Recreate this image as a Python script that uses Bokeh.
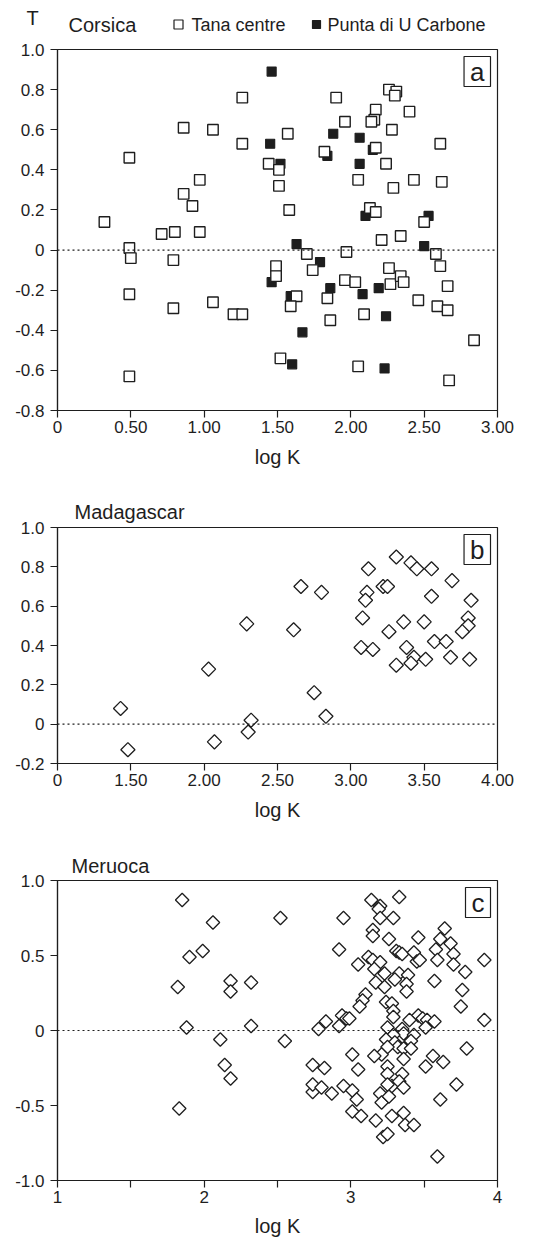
import numpy as np
from bokeh.plotting import figure
from bokeh.layouts import column
from bokeh.models import Range1d, FixedTicker, Span, Label
from bokeh.core.properties import value
from bokeh.embed import file_html
from bokeh.resources import INLINE

FONT = "Liberation Sans"
INK = "#1e1e1e"

# ---------------- Corsica ----------------
tana_logk = [0.32, 0.49, 0.86, 1.06, 1.26, 1.26, 0.97, 0.86, 0.92, 0.71, 0.80, 0.97,
             0.49, 0.50, 0.79, 0.49, 1.06, 0.79, 1.20, 1.26, 0.49,
             1.90, 2.26, 2.31, 2.30, 2.17, 2.16, 2.14, 2.40, 1.96, 1.57, 2.28, 2.61,
             2.17, 1.82, 1.44, 1.51, 2.24, 2.05, 2.43, 2.62, 2.29, 1.51, 1.58, 2.13,
             2.17, 2.50, 2.34, 2.21, 1.70, 1.97, 2.58, 1.49, 2.61, 1.74, 2.26, 1.49,
             1.96, 2.03, 2.27, 2.34, 2.36, 2.66, 1.63, 1.84, 1.59, 2.46, 2.59, 2.66,
             2.09, 1.86, 2.84, 1.52, 2.05, 2.67]
tana_t = [0.14, 0.46, 0.61, 0.60, 0.76, 0.53, 0.35, 0.28, 0.22, 0.08, 0.09, 0.09,
          0.01, -0.04, -0.05, -0.22, -0.26, -0.29, -0.32, -0.32, -0.63,
          0.76, 0.80, 0.79, 0.77, 0.70, 0.65, 0.64, 0.69, 0.64, 0.58, 0.60, 0.53,
          0.51, 0.49, 0.43, 0.40, 0.43, 0.35, 0.35, 0.34, 0.31, 0.32, 0.20, 0.21,
          0.19, 0.14, 0.07, 0.05, -0.02, -0.01, -0.02, -0.08, -0.08, -0.10, -0.09, -0.13,
          -0.15, -0.16, -0.17, -0.13, -0.16, -0.18, -0.23, -0.24, -0.28, -0.25, -0.28, -0.30,
          -0.32, -0.35, -0.45, -0.54, -0.58, -0.65]

punta_logk = [1.46, 1.88, 2.06, 1.45, 2.15, 1.84, 1.52, 2.06, 2.10, 2.53, 1.63,
              2.50, 1.79, 1.46, 1.86, 2.19, 2.08, 1.59, 2.24, 1.67, 1.60, 2.23]
punta_t = [0.89, 0.58, 0.56, 0.53, 0.50, 0.47, 0.43, 0.43, 0.17, 0.17, 0.03,
           0.02, -0.06, -0.16, -0.19, -0.19, -0.22, -0.23, -0.33, -0.41, -0.57, -0.59]

corsica_xticks = [0.0, 0.5, 1.0, 1.5, 2.0, 2.5, 3.0]
corsica_xlabels = ["0", "0.50", "1.00", "1.50", "2.00", "2.50", "3.00"]
corsica_yticks = [1.0, 0.8, 0.6, 0.4, 0.2, 0.0, -0.2, -0.4, -0.6, -0.8]
corsica_ylabels = ["1.0", "0.8", "0.6", "0.4", "0.2", "0", "-0.2", "-0.4", "-0.6", "-0.8"]
corsica_series = ["Tana centre", "Punta di U Carbone"]

# ---------------- Madagascar ----------------
madag_logk = [1.43, 1.48, 2.03, 2.07, 2.32, 2.30, 2.75, 2.83,
              3.31, 3.12, 3.41, 3.45, 3.55, 3.69, 2.66, 2.80, 3.11, 3.10, 3.22, 3.25,
              3.55, 3.82, 3.08, 3.36, 3.50, 3.80, 3.80, 3.76, 2.29, 2.61, 3.26, 3.57,
              3.65, 3.07, 3.15, 3.38, 3.43, 3.41, 3.51, 3.68, 3.81, 3.31]
madag_t = [0.08, -0.13, 0.28, -0.09, 0.02, -0.04, 0.16, 0.04,
           0.85, 0.79, 0.82, 0.79, 0.79, 0.73, 0.70, 0.67, 0.67, 0.63, 0.70, 0.70,
           0.65, 0.63, 0.54, 0.52, 0.52, 0.54, 0.50, 0.47, 0.51, 0.48, 0.47, 0.42,
           0.42, 0.39, 0.38, 0.39, 0.34, 0.31, 0.33, 0.34, 0.33, 0.30]

madag_xticks = [1.0, 1.5, 2.0, 2.5, 3.0, 3.5, 4.0]
madag_xlabels = ["0", "1.50", "2.00", "2.50", "3.00", "3.50", "4.00"]
madag_yticks = [1.0, 0.8, 0.6, 0.4, 0.2, 0.0, -0.2]
madag_ylabels = ["1.0", "0.8", "0.6", "0.4", "0.2", "0", "-0.2"]

# ---------------- Meruoca ----------------
meruoca_logk = [1.85, 2.06, 2.52, 2.95, 3.14, 3.20, 3.19, 3.33, 3.20, 3.29, 3.15, 3.15,
                3.64, 3.26, 3.46, 3.61,
                3.68, 1.90, 1.99, 2.92, 3.05, 3.12, 3.15, 3.20, 3.31, 3.33, 3.35, 3.43,
                3.45, 3.47, 3.58, 3.59, 3.70, 3.70, 3.78, 3.91, 3.16, 3.23, 3.33, 3.30,
                3.39, 3.38, 3.38, 3.57, 3.17, 3.23, 3.76, 1.82, 2.18, 2.18, 2.32, 3.10,
                3.08, 3.06, 3.24, 3.28, 3.29, 3.29, 3.75, 3.91, 3.46, 3.49, 3.52, 3.57,
                3.40, 3.51, 2.94, 2.97, 2.99, 2.92, 2.83, 2.78, 1.88, 2.32, 3.25, 3.35,
                3.36, 3.29, 3.43, 3.24, 3.30, 2.11, 2.55, 3.41, 3.32, 3.36, 3.41, 3.25,
                3.79, 3.21, 3.16, 3.01, 3.36, 3.56, 3.51, 3.63, 2.74, 2.82, 3.05, 3.25,
                3.25, 3.35, 2.14, 2.18,
                1.83, 2.74, 2.74, 2.80, 2.87, 2.95, 3.01, 3.04, 3.01, 3.07, 3.17, 3.20,
                3.21, 3.26, 3.28, 3.33, 3.25, 3.36, 3.28, 3.36, 3.37, 3.43, 3.22, 3.25,
                3.61, 3.59, 3.72]
meruoca_t = [0.87, 0.72, 0.75, 0.75, 0.87, 0.83, 0.81, 0.89, 0.75, 0.75, 0.67, 0.63,
             0.68, 0.61, 0.62, 0.61,
             0.58, 0.49, 0.53, 0.54, 0.44, 0.49, 0.47, 0.455, 0.53, 0.52, 0.51, 0.52,
             0.46, 0.47, 0.54, 0.47, 0.51, 0.44, 0.39, 0.47, 0.41, 0.38, 0.38, 0.34,
             0.37, 0.31, 0.26, 0.33, 0.32, 0.29, 0.27, 0.29, 0.33, 0.26, 0.32, 0.24,
             0.20, 0.16, 0.19, 0.18, 0.13, 0.09, 0.16, 0.07, 0.10, 0.08, 0.07, 0.06,
             0.07, 0.02, 0.10, 0.08, 0.08, 0.03, 0.06, 0.01, 0.02, 0.03, 0.02, 0.01,
             -0.02, -0.03, -0.03, -0.06, -0.08, -0.06, -0.07, -0.07, -0.11, -0.12, -0.12, -0.11,
             -0.12, -0.16, -0.17, -0.16, -0.19, -0.17, -0.24, -0.21, -0.23, -0.25, -0.26, -0.24,
             -0.29, -0.29, -0.23, -0.32,
             -0.52, -0.41, -0.36, -0.38, -0.42, -0.37, -0.40, -0.46, -0.54, -0.57, -0.60, -0.42,
             -0.48, -0.44, -0.37, -0.34, -0.36, -0.38, -0.57, -0.55, -0.63, -0.63, -0.71, -0.69,
             -0.46, -0.84, -0.36]

meruoca_xticks = [1.0, 1.5, 2.0, 2.5, 3.0, 3.5, 4.0]
meruoca_xlabels = ["1", "", "2", "", "3", "", "4"]
meruoca_yticks = [1.0, 0.5, 0.0, -0.5, -1.0]
meruoca_ylabels = ["1.0", "0.5", "0", "-0.5", "-1.0"]


def make_panel(height, top, frame_h, xr, yr, xticks, xlabels, yticks, ylabels,
               tag, label_standoff):
    p = figure(width=540, height=height, x_range=Range1d(*xr), y_range=Range1d(*yr),
               output_backend="svg", toolbar_location=None,
               min_border_left=57, min_border_right=43,
               min_border_top=top, min_border_bottom=height - top - frame_h)
    p.xgrid.visible = False
    p.ygrid.visible = False
    p.outline_line_color = INK
    p.outline_line_width = 1.2
    p.background_fill_color = "white"
    p.border_fill_color = "white"

    p.xaxis.ticker = FixedTicker(ticks=xticks)
    p.xaxis.major_label_overrides = dict(zip(xticks, xlabels))
    p.yaxis.ticker = FixedTicker(ticks=yticks)
    p.yaxis.major_label_overrides = dict(zip(yticks, ylabels))

    for ax in (p.xaxis, p.yaxis):
        ax.axis_line_color = INK
        ax.axis_line_width = 1.2
        ax.major_tick_line_color = INK
        ax.major_tick_line_width = 1.2
        ax.major_tick_out = 7
        ax.major_tick_in = 0
        ax.minor_tick_line_color = None
        ax.major_label_text_font = FONT
        ax.major_label_text_font_size = "17px"
        ax.major_label_text_color = INK
    p.xaxis.major_label_standoff = 3
    p.yaxis.major_label_standoff = 6

    p.xaxis.axis_label = "log K"
    p.xaxis.axis_label_text_font = FONT
    p.xaxis.axis_label_text_font_size = "20px"
    p.xaxis.axis_label_text_font_style = "normal"
    p.xaxis.axis_label_text_color = INK
    p.xaxis.axis_label_standoff = label_standoff

    p.add_layout(Span(location=0, dimension="width", line_color=INK,
                      line_dash="2 3", line_width=1.2))

    p.add_layout(Label(x=xr[1], y=yr[1], x_offset=-7, y_offset=-7, text=tag,
                       text_align="right", text_baseline="top",
                       text_font=FONT, text_font_size="26px", text_color=INK,
                       border_line_color=INK, border_line_width=1.2,
                       background_fill_color="white", padding=dict(x=6, y=0)))
    return p


def set_title(p, text, offset, standoff):
    p.title.text = text
    p.title.align = "left"
    p.title.offset = offset
    p.title.standoff = standoff
    p.title.text_font = FONT
    p.title.text_font_size = "20px"
    p.title.text_font_style = "normal"
    p.title.text_color = INK


# Header strip above panel a: axis name, site name and the two-series key.
# frame_align=False keeps its frame spanning the whole strip.
HDR_H = 38
hdr = figure(width=540, height=HDR_H, x_range=Range1d(0, 540), y_range=Range1d(0, HDR_H),
             output_backend="svg", toolbar_location=None, min_border=0,
             x_axis_location=None, y_axis_location=None, outline_line_color=None)
hdr.frame_align = False
hdr.xgrid.visible = False
hdr.ygrid.visible = False
hdr.text(x=[32], y=[HDR_H - 17], text=["T"], text_font=value(FONT),
         text_font_size="20px", text_align="center", text_baseline="middle",
         text_color=INK)
hdr.text(x=[68], y=[HDR_H - 24], text=["Corsica"], text_font=value(FONT),
         text_font_size="20px", text_align="left", text_baseline="middle",
         text_color=INK)
hdr.scatter(x=[178], y=[HDR_H - 24], marker="square", size=9, fill_color="white",
            line_color=INK, line_width=1.2)
hdr.scatter(x=[316], y=[HDR_H - 24], marker="square", size=8, fill_color=INK,
            line_color=INK, line_width=1.2)
hdr.text(x=[191, 327], y=[HDR_H - 24, HDR_H - 24], text=corsica_series,
         text_font=value(FONT), text_font_size="18px", text_align="left",
         text_baseline="middle", text_color=INK)

# Panel a: Corsica
pa = make_panel(476 - HDR_H, 49 - HDR_H, 361, (0, 3.0), (-0.8, 1.0), corsica_xticks,
                corsica_xlabels, corsica_yticks, corsica_ylabels, "a", 10)
pa.scatter(punta_logk, punta_t, marker="square", size=9, fill_color=INK,
           line_color=INK, line_width=1.2)
pa.scatter(tana_logk, tana_t, marker="square", size=10.5, fill_color="white",
           line_color=INK, line_width=1.4)

# Panel b: Madagascar
pb = make_panel(353, 51, 236, (1.0, 4.0), (-0.2, 1.0), madag_xticks, madag_xlabels,
                madag_yticks, madag_ylabels, "b", 10)
pb.scatter(madag_logk, madag_t, marker="square", angle=np.pi / 4, size=10,
           fill_color="white", line_color=INK, line_width=1.3)
set_title(pb, "Madagascar", 17, 10)

# Panel c: Meruoca
pc = make_panel(414, 51, 300, (1.0, 4.0), (-1.0, 1.0), meruoca_xticks, meruoca_xlabels,
                meruoca_yticks, meruoca_ylabels, "c", 9)
pc.scatter(meruoca_logk, meruoca_t, marker="square", angle=np.pi / 4, size=9.5,
           fill_color="white", line_color=INK, line_width=1.3)
set_title(pc, "Meruoca", 14, 8)

layout = column(hdr, pa, pb, pc, spacing=0)

with open("out.html", "w") as f:
    f.write(file_html(layout, INLINE))
